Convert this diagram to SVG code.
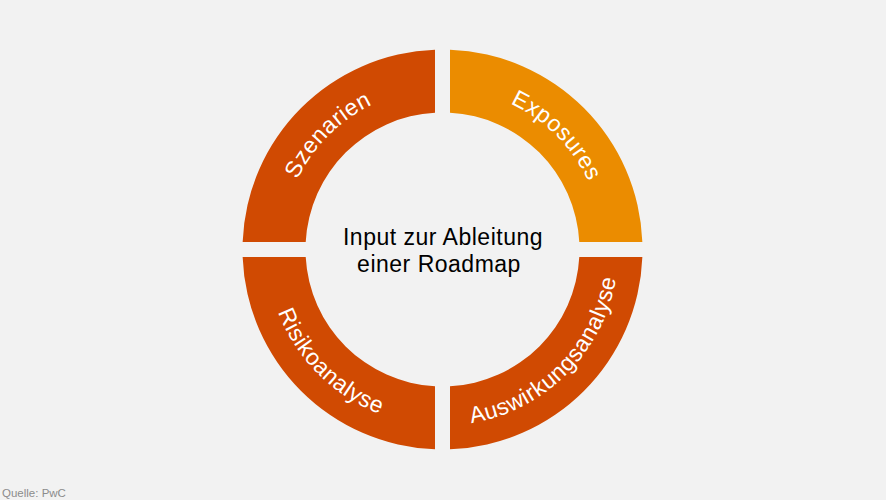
<svg xmlns="http://www.w3.org/2000/svg" width="886" height="500" viewBox="0 0 886 500">
  <style>
    .dark { fill: #D04A02; }
    .light { fill: #EB8C00; }
    .seg-label { font-family: "Liberation Sans", Arial, sans-serif; font-size: 23px; fill: #FFFFFF; letter-spacing: 0.5px; }
    .center-label { font-family: "Liberation Sans", Arial, sans-serif; font-size: 23px; fill: #000000; letter-spacing: 0.5px; }
    .source { font-family: "Liberation Sans", Arial, sans-serif; font-size: 11.5px; fill: #8C8C8C; }
  </style>
  <defs>
    <path id="arcTL" d="M 281.5 249.5 A 161 161 0 0 1 442.5 88.5"/>
    <path id="arcTR" d="M 442.5 88.5 A 161 161 0 0 1 603.5 249.5"/>
    <path id="arcBL" d="M 266.5 249.5 A 176 176 0 0 0 442.5 425.5"/>
    <path id="arcBR" d="M 442.5 425.5 A 176 176 0 0 0 618.5 249.5"/>
  </defs>
  <rect x="0" y="0" width="886" height="500" fill="#F2F2F2"/>

  <g id="szenarien">
    <path class="dark" d="M 242.64 242 A 200 200 0 0 1 435 49.64 L 435 112.70 A 137 137 0 0 0 305.70 242 Z"/>
    <text class="seg-label" text-anchor="middle"><textPath href="#arcTL" startOffset="50%">Szenarien</textPath></text>
  </g>

  <g id="exposures">
    <path class="light" d="M 450 49.64 A 200 200 0 0 1 642.36 242 L 579.30 242 A 137 137 0 0 0 450 112.70 Z"/>
    <text class="seg-label" text-anchor="middle"><textPath href="#arcTR" startOffset="50%">Exposures</textPath></text>
  </g>

  <g id="auswirkungsanalyse">
    <path class="dark" d="M 642.36 257 A 200 200 0 0 1 450 449.36 L 450 386.30 A 137 137 0 0 0 579.30 257 Z"/>
    <text class="seg-label" text-anchor="middle"><textPath href="#arcBR" startOffset="50%">Auswirkungsanalyse</textPath></text>
  </g>

  <g id="risikoanalyse">
    <path class="dark" d="M 435 449.36 A 200 200 0 0 1 242.64 257 L 305.70 257 A 137 137 0 0 0 435 386.30 Z"/>
    <text class="seg-label" text-anchor="middle"><textPath href="#arcBL" startOffset="50%">Risikoanalyse</textPath></text>
  </g>

  <g id="center">
    <text class="center-label" x="443" y="245" text-anchor="middle">Input zur Ableitung</text>
    <text class="center-label" x="439" y="272" text-anchor="middle">einer Roadmap</text>
  </g>

  <g id="connectors"/>

  <text class="source" x="2" y="497">Quelle: PwC</text>
</svg>
